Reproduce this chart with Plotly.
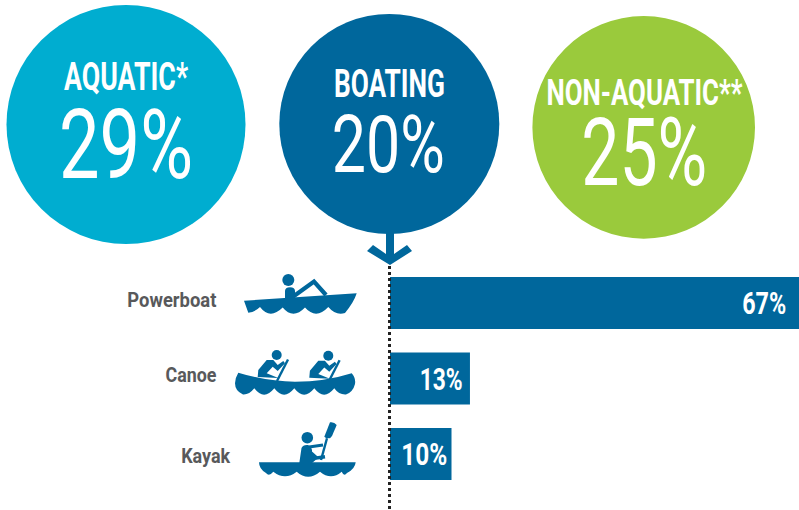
import json
import plotly.graph_objects as go

# ---- data ----
group_names = ["AQUATIC*", "BOATING", "NON-AQUATIC**"]
group_values = [29, 20, 25]
group_colors = ["#00ADD0", "#00679C", "#9ACA3C"]
categories = ["Powerboat", "Canoe", "Kayak"]
shares = [67, 13, 10]

BLUE = "#00679C"
GREY = "#58595B"
FONT = "Roboto"
PX_PER_PCT = 6.15

# pixel geometry of the circles: centre x, centre y, radius
circle_geo = [(126, 124.5, 119.5), (389.3, 124, 110), (643.7, 127.4, 111.3)]
title_x = [126, 389.5, 645]
title_y = [77, 84, 93]
title_size = [38, 39, 36]
title_w = [124, 111, 196]
value_x = [125.5, 388.5, 644.5]
value_y = [145, 145, 153]
value_size = [97, 80, 94]
value_w = [134, 113, 126]
label_cx = [171.5, 190.5, 205.5]
label_y = [300, 375, 456]
label_w = [89, 51, 49]
bar_label_pad = [16, 7, 5]
bar_label_w = [44, 43, 46]

fig = go.Figure()

# bars on a real value axis: 0 at x=390px
fig.add_trace(go.Bar(
    x=shares, y=categories, orientation="h", width=0.689,
    marker=dict(color=BLUE, line_width=0), hoverinfo="skip", showlegend=False,
))
# invisible trace to create the pixel overlay axes
fig.add_trace(go.Scatter(x=[0], y=[0], xaxis="x2", yaxis="y2", mode="markers",
                         marker=dict(opacity=0), hoverinfo="skip", showlegend=False))

shapes = []
def px_path(d, color=BLUE, line=0):
    shapes.append(dict(type="path", xref="x2", yref="y2", path=d,
                       fillcolor=color if line == 0 else "rgba(0,0,0,0)",
                       line=dict(color=color, width=line), layer="above"))

def disc(cx, cy, r, color=BLUE):
    shapes.append(dict(type="circle", xref="x2", yref="y2", x0=cx-r, x1=cx+r, y0=cy-r, y1=cy+r,
                       fillcolor=color, line_width=0, layer="above"))

for (cx, cy, r), c in zip(circle_geo, group_colors):
    disc(cx, cy, r, c)

# arrow under the boating circle
px_path("M386 232 L394 232 L394 254 L407 245 L412 251 L390 265 L367 251 L373 245 L386 254 Z")

# dotted leader
shapes.append(dict(type="line", xref="x2", yref="y2", x0=389.5, x1=389.5, y0=266, y1=510,
                   line=dict(color="#222222", width=3, dash="3px,3px"), layer="above"))

# ---- powerboat ----
disc(288.3, 280, 6)
px_path("M244 300.7 L356.7 293.3 Q354 302 345 313 Q336 316 328.3 307 Q316 320 305 307.5 Q293 320 282.7 307.5 Q270 320 260 307 Q255 312 248.3 312.7 Z")
px_path("M285 299 L285 291 Q285 287.5 290 287.3 Q295 287.5 295 291 L295 299 Z")
px_path("M294 296 L314 281.5 L326 295", line=4.2)

# ---- canoe ----
disc(276.7, 355, 5)
disc(328.3, 355.7, 5)
px_path("M238.3 372.7 Q268 381.7 295 381.7 Q325 381.7 351.7 373.3 Q356 378 355 384 Q353 392 346 394.5 Q339 395 334.3 388.3 Q324 401 314.3 388.3 Q304 401 294.3 388.3 Q284 401 274.3 388.3 Q264 401 254.3 388.3 Q249 395 243 394.5 Q235 391 235 383.3 Q235.5 377 238.3 372.7 Z")
for dx, dy in ((0, 0), (51.6, 0.7)):
    pts = [(257.7, 377), (258.3, 370), (266.7, 360), (273.3, 360), (277.7, 365), (283.3, 361), (285, 363.3),
           (277.7, 371), (272.7, 366.7), (266.7, 373.3), (278.3, 378)]
    px_path("M" + " L".join(f"{x+dx} {y+dy}" for x, y in pts) + " Z")
    px_path(f"M{288+dx} {359.5+dy} L{277+dx} {381+dy}", line=2.4)

# ---- kayak ----
disc(307.3, 437.7, 5.8)
px_path("M259 462.3 L355.7 462.3 Q355 469 347 473 Q344 477 341.7 471.7 Q331 481 320 471.7 Q308 482 296.7 471.7 Q285 481 273.3 471.7 Q269 477 266 473 Q259 469 259 462.3 Z")
px_path("M299.3 463 L301.5 448 Q303 444.5 308 445 Q311 446 312 450 L312 453 L318 458 L312 463 Z")
px_path("M309 447 L323 445", line=3)
px_path("M310 452 L316.7 458 L325 456.7", line=3.5)
px_path("M321 460 L327 438.3", line=2.4)
px_path("M330 422.3 Q334 421.5 336.7 425 L332 436 L330 438.3 L326 438 L324.3 436.7 Z")

fig.update_layout(
    width=799, height=510, margin=dict(l=0, r=0, t=0, b=0),
    paper_bgcolor="white", plot_bgcolor="white", shapes=shapes, showlegend=False,
    xaxis=dict(range=[-390/PX_PER_PCT, 409/PX_PER_PCT], visible=False, domain=[0, 1], fixedrange=True),
    yaxis=dict(range=[207/75.5, -303/75.5], visible=False, domain=[0, 1], fixedrange=True,
               categoryorder="array", categoryarray=categories),
    xaxis2=dict(range=[0, 799], visible=False, overlaying="x", anchor="y2", fixedrange=True),
    yaxis2=dict(range=[510, 0], visible=False, overlaying="y", anchor="x2", fixedrange=True),
)

ann = []
widths = {}
for name, v, tx, ty, ts, tw, vx, vy, vs, vw in zip(group_names, group_values, title_x, title_y, title_size,
                                                   title_w, value_x, value_y, value_size, value_w):
    ann.append(dict(xref="x2", yref="y2", x=tx, y=ty, text=name, showarrow=False,
                    font=dict(family=FONT, size=ts, color="white", weight=700)))
    ann.append(dict(xref="x2", yref="y2", x=vx, y=vy, text=f"{v}%", showarrow=False,
                    font=dict(family=FONT, size=vs, color="white", weight=400)))
    widths[name] = tw
    widths[f"{v}%"] = vw
for cat, s, cx, ly, lw, pad, bw in zip(categories, shares, label_cx, label_y, label_w, bar_label_pad, bar_label_w):
    ann.append(dict(xref="x2", yref="y2", x=cx, y=ly, text=cat, showarrow=False,
                    font=dict(family=FONT, size=21, color=GREY, weight=700)))
    # anchored one point inside the bar end so that the label stays inside the visible axis range
    ann.append(dict(xref="x", yref="y", x=s - 1, y=cat, text=f"{s}%", showarrow=False,
                    xshift=PX_PER_PCT - (pad + bw / 2), font=dict(family=FONT, size=32, color="white", weight=700)))
    widths[cat] = lw
    widths[f"{s}%"] = bw
fig.update_layout(annotations=ann)

# squeeze the installed font to the condensed widths of the reference (text stays real text)
js = ("document.body.style.margin='0';var W=" + json.dumps(widths) + ";"
      "document.querySelectorAll('text.annotation-text').forEach(function(t){"
      "var w=W[t.textContent];if(w){t.setAttribute('textLength',w);"
      "t.setAttribute('lengthAdjust','spacingAndGlyphs');}});")
fig.write_html("out.html", config=dict(displayModeBar=False), post_script=js)
